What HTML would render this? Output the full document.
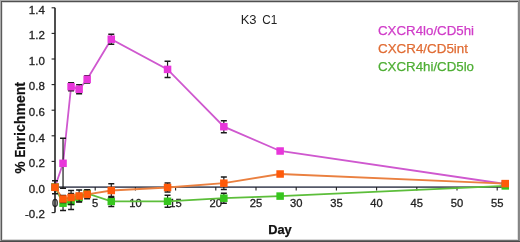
<!DOCTYPE html>
<html><head><meta charset="utf-8"><style>
html,body{margin:0;padding:0;background:#fff;}
body{width:520px;height:242px;overflow:hidden;font-family:"Liberation Sans",sans-serif;}
svg{display:block;will-change:transform;}
</style></head><body>
<svg width="520" height="242" viewBox="0 0 520 242">
<rect x="0" y="0" width="520" height="242" fill="#fff"/>
<rect x="0" y="0" width="1" height="242" fill="#aaa"/><rect x="1" y="0" width="1" height="242" fill="#5a5a5a"/><rect x="2" y="2" width="1" height="238" fill="#e0e0e0"/>
<rect x="0" y="0" width="520" height="1" fill="#aaa"/><rect x="1" y="1" width="518" height="1" fill="#505050"/><rect x="2" y="2" width="516" height="1" fill="#d4d4d4"/>
<rect x="517" y="2" width="1" height="238" fill="#e2e2e2"/><rect x="518" y="1" width="1" height="241" fill="#858585"/><rect x="519" y="0" width="1" height="242" fill="#8a8a8a"/>
<rect x="2" y="239" width="516" height="1" fill="#d8d8d8"/><rect x="1" y="240" width="518" height="1" fill="#6e6e6e"/><rect x="0" y="241" width="520" height="1" fill="#4a4a4a"/>
<g font-family="&quot;Liberation Sans&quot;, sans-serif" fill="#222">
<text x="240.7" y="24" font-size="13">K3</text><text x="262.2" y="24" font-size="13" textLength="15" lengthAdjust="spacingAndGlyphs">C1</text>
<g transform="translate(24.8,0) rotate(-90)" font-size="14.3" font-weight="bold" fill="#111" stroke="#111" stroke-width="0.2"><text x="-173.4" y="0.2" font-size="15.5" textLength="12" lengthAdjust="spacingAndGlyphs">%</text><text x="-157.6" y="0" textLength="7.6" lengthAdjust="spacingAndGlyphs">E</text><text x="-150" y="0" textLength="68" lengthAdjust="spacingAndGlyphs">nrichment</text></g>
<text x="280" y="234.4" text-anchor="middle" font-size="12.8" font-weight="bold" fill="#111" stroke="#111" stroke-width="0.25">Day</text>
</g>
<g font-family="&quot;Liberation Sans&quot;, sans-serif" fill="#222" stroke="#222" stroke-width="0.3">
<text x="44.8" y="13.50" text-anchor="end" font-size="11.5">1.4</text>
<text x="44.8" y="39.10" text-anchor="end" font-size="11.5">1.2</text>
<text x="44.8" y="64.70" text-anchor="end" font-size="11.5">1.0</text>
<text x="44.8" y="90.30" text-anchor="end" font-size="11.5">0.8</text>
<text x="44.8" y="115.90" text-anchor="end" font-size="11.5">0.6</text>
<text x="44.8" y="141.50" text-anchor="end" font-size="11.5">0.4</text>
<text x="44.8" y="167.10" text-anchor="end" font-size="11.5">0.2</text>
<text x="44.8" y="192.70" text-anchor="end" font-size="11.5">0.0</text>
<text x="44.8" y="218.30" text-anchor="end" font-size="11.5">-0.2</text>
<text x="55.00" y="206.6" text-anchor="middle" font-size="11.2">0</text>
<text x="95.20" y="206.6" text-anchor="middle" font-size="11.2">5</text>
<text x="135.40" y="206.6" text-anchor="middle" font-size="11.2">10</text>
<text x="175.60" y="206.6" text-anchor="middle" font-size="11.2">15</text>
<text x="215.80" y="206.6" text-anchor="middle" font-size="11.2">20</text>
<text x="256.00" y="206.6" text-anchor="middle" font-size="11.2">25</text>
<text x="296.20" y="206.6" text-anchor="middle" font-size="11.2">30</text>
<text x="336.40" y="206.6" text-anchor="middle" font-size="11.2">35</text>
<text x="376.60" y="206.6" text-anchor="middle" font-size="11.2">40</text>
<text x="416.80" y="206.6" text-anchor="middle" font-size="11.2">45</text>
<text x="457.00" y="206.6" text-anchor="middle" font-size="11.2">50</text>
<text x="497.20" y="206.6" text-anchor="middle" font-size="11.2">55</text>
</g>
<path d="M55.0,7.80V212.60" stroke="#151515" stroke-width="1.5" fill="none"/>
<path d="M51.60,7.80H55.0" stroke="#222" stroke-width="1.1"/>
<path d="M51.60,33.40H55.0" stroke="#222" stroke-width="1.1"/>
<path d="M51.60,59.00H55.0" stroke="#222" stroke-width="1.1"/>
<path d="M51.60,84.60H55.0" stroke="#222" stroke-width="1.1"/>
<path d="M51.60,110.20H55.0" stroke="#222" stroke-width="1.1"/>
<path d="M51.60,135.80H55.0" stroke="#222" stroke-width="1.1"/>
<path d="M51.60,161.40H55.0" stroke="#222" stroke-width="1.1"/>
<path d="M51.60,187.00H55.0" stroke="#222" stroke-width="1.1"/>
<path d="M51.60,212.60H55.0" stroke="#222" stroke-width="1.1"/>
<path d="M55.0,187.1H505.24" stroke="#555868" stroke-width="1.7" fill="none"/>
<path d="M55.00,187.0V190.5" stroke="#222" stroke-width="1.1"/>
<path d="M95.20,187.0V190.5" stroke="#222" stroke-width="1.1"/>
<path d="M135.40,187.0V190.5" stroke="#222" stroke-width="1.1"/>
<path d="M175.60,187.0V190.5" stroke="#222" stroke-width="1.1"/>
<path d="M215.80,187.0V190.5" stroke="#222" stroke-width="1.1"/>
<path d="M256.00,187.0V190.5" stroke="#222" stroke-width="1.1"/>
<path d="M296.20,187.0V190.5" stroke="#222" stroke-width="1.1"/>
<path d="M336.40,187.0V190.5" stroke="#222" stroke-width="1.1"/>
<path d="M376.60,187.0V190.5" stroke="#222" stroke-width="1.1"/>
<path d="M416.80,187.0V190.5" stroke="#222" stroke-width="1.1"/>
<path d="M457.00,187.0V190.5" stroke="#222" stroke-width="1.1"/>
<path d="M497.20,187.0V190.5" stroke="#222" stroke-width="1.1"/>
<polyline points="55.00,187.00 63.04,163.30 71.08,86.70 79.12,89.20 87.16,79.30 111.28,39.20 167.56,69.40 223.84,126.70 280.12,151.00 505.24,184.00" fill="none" stroke="#cf58cf" stroke-width="1.8"/>
<polyline points="55.00,187.00 63.04,203.20 71.08,201.40 79.12,197.50 87.16,193.50 111.28,201.40 167.56,201.30 223.84,198.20 280.12,196.10 505.24,185.90" fill="none" stroke="#5cbe3a" stroke-width="1.8"/>
<polyline points="55.00,187.30 63.04,199.00 71.08,197.50 79.12,196.00 87.16,194.30 111.28,190.50 167.56,187.50 223.84,183.20 280.12,174.00 505.24,183.60" fill="none" stroke="#ea8040" stroke-width="1.8"/>
<rect x="51.25" y="183.25" width="7.5" height="7.5" fill="#e836da"/>
<path d="M63.04,138.30V188.30" stroke="#1a1a1a" stroke-width="1.2" fill="none"/><path d="M60.04,138.30h6M60.04,188.30h6" stroke="#1a1a1a" stroke-width="1.5" fill="none"/>
<rect x="59.29" y="159.55" width="7.5" height="7.5" fill="#e836da"/>
<path d="M71.08,82.70V90.70" stroke="#1a1a1a" stroke-width="1.2" fill="none"/><path d="M68.08,82.70h6M68.08,90.70h6" stroke="#1a1a1a" stroke-width="1.5" fill="none"/>
<rect x="67.33" y="82.95" width="7.5" height="7.5" fill="#e836da"/>
<path d="M79.12,84.70V93.70" stroke="#1a1a1a" stroke-width="1.2" fill="none"/><path d="M76.12,84.70h6M76.12,93.70h6" stroke="#1a1a1a" stroke-width="1.5" fill="none"/>
<rect x="75.37" y="85.45" width="7.5" height="7.5" fill="#e836da"/>
<path d="M87.16,75.70V82.90" stroke="#1a1a1a" stroke-width="1.2" fill="none"/><path d="M84.16,75.70h6M84.16,82.90h6" stroke="#1a1a1a" stroke-width="1.5" fill="none"/>
<rect x="83.41" y="75.55" width="7.5" height="7.5" fill="#e836da"/>
<path d="M111.28,34.20V44.20" stroke="#1a1a1a" stroke-width="1.2" fill="none"/><path d="M108.28,34.20h6M108.28,44.20h6" stroke="#1a1a1a" stroke-width="1.5" fill="none"/>
<rect x="107.53" y="35.45" width="7.5" height="7.5" fill="#e836da"/>
<path d="M167.56,61.20V77.60" stroke="#1a1a1a" stroke-width="1.2" fill="none"/><path d="M164.56,61.20h6M164.56,77.60h6" stroke="#1a1a1a" stroke-width="1.5" fill="none"/>
<rect x="163.81" y="65.65" width="7.5" height="7.5" fill="#e836da"/>
<path d="M223.84,120.70V132.70" stroke="#1a1a1a" stroke-width="1.2" fill="none"/><path d="M220.84,120.70h6M220.84,132.70h6" stroke="#1a1a1a" stroke-width="1.5" fill="none"/>
<rect x="220.09" y="122.95" width="7.5" height="7.5" fill="#e836da"/>
<path d="M280.12,149.00V153.00" stroke="#1a1a1a" stroke-width="1.2" fill="none"/><path d="M277.12,149.00h6M277.12,153.00h6" stroke="#1a1a1a" stroke-width="1.5" fill="none"/>
<rect x="276.37" y="147.25" width="7.5" height="7.5" fill="#e836da"/>
<path d="M505.24,183.00V185.00" stroke="#1a1a1a" stroke-width="1.2" fill="none"/><path d="M502.24,183.00h6M502.24,185.00h6" stroke="#1a1a1a" stroke-width="1.5" fill="none"/>
<rect x="501.49" y="180.25" width="7.5" height="7.5" fill="#e836da"/>
<rect x="51.25" y="183.25" width="7.5" height="7.5" fill="#36c61e"/>
<path d="M63.04,195.80V210.60" stroke="#1a1a1a" stroke-width="1.2" fill="none"/><path d="M60.04,195.80h6M60.04,210.60h6" stroke="#1a1a1a" stroke-width="1.5" fill="none"/>
<rect x="59.29" y="199.45" width="7.5" height="7.5" fill="#36c61e"/>
<path d="M71.08,193.40V209.40" stroke="#1a1a1a" stroke-width="1.2" fill="none"/><path d="M68.08,193.40h6M68.08,209.40h6" stroke="#1a1a1a" stroke-width="1.5" fill="none"/>
<rect x="67.33" y="197.65" width="7.5" height="7.5" fill="#36c61e"/>
<path d="M79.12,193.50V201.50" stroke="#1a1a1a" stroke-width="1.2" fill="none"/><path d="M76.12,193.50h6M76.12,201.50h6" stroke="#1a1a1a" stroke-width="1.5" fill="none"/>
<rect x="75.37" y="193.75" width="7.5" height="7.5" fill="#36c61e"/>
<path d="M87.16,190.50V196.50" stroke="#1a1a1a" stroke-width="1.2" fill="none"/><path d="M84.16,190.50h6M84.16,196.50h6" stroke="#1a1a1a" stroke-width="1.5" fill="none"/>
<rect x="83.41" y="189.75" width="7.5" height="7.5" fill="#36c61e"/>
<path d="M111.28,196.40V206.40" stroke="#1a1a1a" stroke-width="1.2" fill="none"/><path d="M108.28,196.40h6M108.28,206.40h6" stroke="#1a1a1a" stroke-width="1.5" fill="none"/>
<rect x="107.53" y="197.65" width="7.5" height="7.5" fill="#36c61e"/>
<path d="M167.56,195.30V207.30" stroke="#1a1a1a" stroke-width="1.2" fill="none"/><path d="M164.56,195.30h6M164.56,207.30h6" stroke="#1a1a1a" stroke-width="1.5" fill="none"/>
<rect x="163.81" y="197.55" width="7.5" height="7.5" fill="#36c61e"/>
<path d="M223.84,193.20V203.20" stroke="#1a1a1a" stroke-width="1.2" fill="none"/><path d="M220.84,193.20h6M220.84,203.20h6" stroke="#1a1a1a" stroke-width="1.5" fill="none"/>
<rect x="220.09" y="194.45" width="7.5" height="7.5" fill="#36c61e"/>
<path d="M280.12,194.10V198.10" stroke="#1a1a1a" stroke-width="1.2" fill="none"/><path d="M277.12,194.10h6M277.12,198.10h6" stroke="#1a1a1a" stroke-width="1.5" fill="none"/>
<rect x="276.37" y="192.35" width="7.5" height="7.5" fill="#36c61e"/>
<path d="M505.24,184.90V186.90" stroke="#1a1a1a" stroke-width="1.2" fill="none"/><path d="M502.24,184.90h6M502.24,186.90h6" stroke="#1a1a1a" stroke-width="1.5" fill="none"/>
<rect x="501.49" y="182.15" width="7.5" height="7.5" fill="#36c61e"/>
<path d="M55.00,180.80V193.80" stroke="#1a1a1a" stroke-width="1.2" fill="none"/><path d="M52.00,180.80h6M52.00,193.80h6" stroke="#1a1a1a" stroke-width="1.5" fill="none"/>
<rect x="51.25" y="183.55" width="7.5" height="7.5" fill="#ff5a0a"/>
<path d="M63.04,195.50V202.50" stroke="#1a1a1a" stroke-width="1.2" fill="none"/><path d="M60.04,195.50h6M60.04,202.50h6" stroke="#1a1a1a" stroke-width="1.5" fill="none"/>
<rect x="59.29" y="195.25" width="7.5" height="7.5" fill="#ff5a0a"/>
<path d="M71.08,190.50V204.50" stroke="#1a1a1a" stroke-width="1.2" fill="none"/><path d="M68.08,190.50h6M68.08,204.50h6" stroke="#1a1a1a" stroke-width="1.5" fill="none"/>
<rect x="67.33" y="193.75" width="7.5" height="7.5" fill="#ff5a0a"/>
<path d="M79.12,190.00V202.00" stroke="#1a1a1a" stroke-width="1.2" fill="none"/><path d="M76.12,190.00h6M76.12,202.00h6" stroke="#1a1a1a" stroke-width="1.5" fill="none"/>
<rect x="75.37" y="192.25" width="7.5" height="7.5" fill="#ff5a0a"/>
<path d="M87.16,189.80V198.80" stroke="#1a1a1a" stroke-width="1.2" fill="none"/><path d="M84.16,189.80h6M84.16,198.80h6" stroke="#1a1a1a" stroke-width="1.5" fill="none"/>
<rect x="83.41" y="190.55" width="7.5" height="7.5" fill="#ff5a0a"/>
<path d="M111.28,183.70V197.30" stroke="#1a1a1a" stroke-width="1.2" fill="none"/><path d="M108.28,183.70h6M108.28,197.30h6" stroke="#1a1a1a" stroke-width="1.5" fill="none"/>
<rect x="107.53" y="186.75" width="7.5" height="7.5" fill="#ff5a0a"/>
<path d="M167.56,183.00V192.00" stroke="#1a1a1a" stroke-width="1.2" fill="none"/><path d="M164.56,183.00h6M164.56,192.00h6" stroke="#1a1a1a" stroke-width="1.5" fill="none"/>
<rect x="163.81" y="183.75" width="7.5" height="7.5" fill="#ff5a0a"/>
<path d="M223.84,176.90V189.50" stroke="#1a1a1a" stroke-width="1.2" fill="none"/><path d="M220.84,176.90h6M220.84,189.50h6" stroke="#1a1a1a" stroke-width="1.5" fill="none"/>
<rect x="220.09" y="179.45" width="7.5" height="7.5" fill="#ff5a0a"/>
<path d="M280.12,172.00V176.00" stroke="#1a1a1a" stroke-width="1.2" fill="none"/><path d="M277.12,172.00h6M277.12,176.00h6" stroke="#1a1a1a" stroke-width="1.5" fill="none"/>
<rect x="276.37" y="170.25" width="7.5" height="7.5" fill="#ff5a0a"/>
<path d="M505.24,182.60V184.60" stroke="#1a1a1a" stroke-width="1.2" fill="none"/><path d="M502.24,182.60h6M502.24,184.60h6" stroke="#1a1a1a" stroke-width="1.5" fill="none"/>
<rect x="501.49" y="179.85" width="7.5" height="7.5" fill="#ff5a0a"/>
<g font-family="&quot;Liberation Sans&quot;, sans-serif" font-size="13.4">
<text x="378" y="34.8" fill="#d03cc8" stroke="#d03cc8" stroke-width="0.25" textLength="96" lengthAdjust="spacingAndGlyphs">CXCR4lo/CD5hi</text>
<text x="378" y="52.8" fill="#e06c34" stroke="#e06c34" stroke-width="0.25" textLength="90" lengthAdjust="spacingAndGlyphs">CXCR4/CD5int</text>
<text x="378" y="71.4" fill="#4eae34" stroke="#4eae34" stroke-width="0.25" textLength="96" lengthAdjust="spacingAndGlyphs">CXCR4hi/CD5lo</text>
</g>
</svg>
</body></html>
